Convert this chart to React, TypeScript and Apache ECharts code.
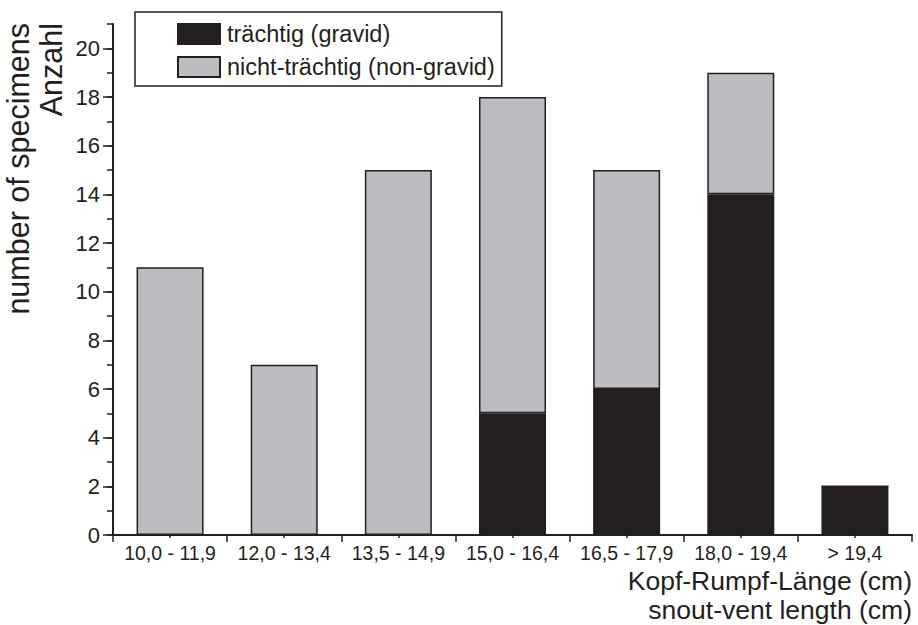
import React, { useEffect, useRef } from "react";
import * as echarts from "echarts";

const categories = ["10,0 - 11,9", "12,0 - 13,4", "13,5 - 14,9", "15,0 - 16,4", "16,5 - 17,9", "18,0 - 19,4", "> 19,4"];
const gravid = [0, 0, 0, 5, 6, 14, 2];
const nonGravid = [11, 7, 15, 13, 9, 5, 0];
const yMajorTicks = [0, 2, 4, 6, 8, 10, 12, 14, 16, 18, 20];
const seriesNames = ["trächtig (gravid)", "nicht-trächtig (non-gravid)"];
const yTitle = ["number of specimens", "Anzahl"];
const xTitle = ["Kopf-Rumpf-Länge (cm)", "snout-vent length (cm)"];

const FONT = "'Liberation Sans', Arial, Helvetica, sans-serif";
const INK = "#231f20";
const GRAY = "#bcbdc1";

export default function App() {
  const ref = useRef<HTMLDivElement>(null);
  useEffect(() => {
    if (!ref.current) return;
    const chart = echarts.init(ref.current, undefined, { renderer: "svg" });
    const option: any = {
      animation: false,
      backgroundColor: "#ffffff",
      textStyle: { fontFamily: FONT },
      grid: { left: 113, right: 6, top: 24, bottom: 90, containLabel: false, outerBoundsMode: "none" },
      legend: {
        orient: "vertical",
        left: 135,
        top: 12,
        icon: "rect",
        itemWidth: 42,
        itemHeight: 20,
        itemGap: 9,
        padding: [10, 7, 7, 42],
        borderColor: INK,
        borderWidth: 1.5,
        borderRadius: 0,
        data: seriesNames,
        textStyle: { fontFamily: FONT, fontSize: 23.5, color: INK, lineHeight: 20, padding: [0, 0, 0, 2] },
      },
      xAxis: [
        {
          type: "category",
          data: categories,
          position: "bottom",
          boundaryGap: true,
          axisLine: { show: true, lineStyle: { color: INK, width: 2 } },
          axisTick: { show: true, interval: 0, length: 7, lineStyle: { color: INK, width: 1.5 } },
          axisLabel: {
            interval: 0,
            margin: 8,
            fontFamily: FONT,
            fontSize: 19.5,
            color: INK,
            hideOverlap: false,
          },
          splitLine: { show: false },
        },
        {
          type: "category",
          data: categories,
          position: "bottom",
          offset: 0,
          boundaryGap: true,
          axisLine: { show: false },
          axisTick: { show: true, alignWithLabel: true, interval: 0, length: 3, lineStyle: { color: INK, width: 1.5 } },
          axisLabel: { show: false },
          splitLine: { show: false },
        },
      ],
      yAxis: [
        {
          type: "value",
          min: 0,
          max: 21,
          interval: 2,
          position: "left",
          axisLine: { show: true, lineStyle: { color: INK, width: 2 } },
          axisTick: { show: true, length: 10, customValues: yMajorTicks, lineStyle: { color: INK, width: 1.5 } },
          axisLabel: {
            margin: 13,
            fontFamily: FONT,
            fontSize: 22,
            color: INK,
            customValues: yMajorTicks,
            formatter: (v: number) => (v % 2 === 0 ? String(v) : ""),
          },
          splitLine: { show: false },
        },
        {
          type: "value",
          min: 0,
          max: 21,
          interval: 1,
          position: "left",
          offset: 0,
          axisLine: { show: false },
          axisTick: { show: true, length: 6, lineStyle: { color: INK, width: 1.5 } },
          axisLabel: { show: false },
          splitLine: { show: false },
        },
      ],
      series: [
        {
          name: seriesNames[0],
          type: "bar",
          stack: "total",
          xAxisIndex: 0,
          yAxisIndex: 0,
          barWidth: 67,
          data: gravid,
          itemStyle: { color: INK, borderColor: INK, borderWidth: 1.5 },
        },
        {
          name: seriesNames[1],
          type: "bar",
          stack: "total",
          xAxisIndex: 0,
          yAxisIndex: 0,
          barWidth: 67,
          data: nonGravid,
          itemStyle: { color: GRAY, borderColor: INK, borderWidth: 1.5 },
        },
      ],
      graphic: [
        {
          type: "text",
          x: 1,
          y: 23,
          rotation: Math.PI / 2,
          style: {
            text: yTitle.join("\n"),
            font: `30.5px ${FONT}`,
            fill: INK,
            align: "right",
            verticalAlign: "top",
            lineHeight: 33,
          },
        },
        {
          type: "text",
          x: 912,
          y: 580.5,
          style: { text: xTitle[0], font: `26.5px ${FONT}`, fill: INK, align: "right", verticalAlign: "middle" },
        },
        {
          type: "text",
          x: 912,
          y: 610,
          style: { text: xTitle[1], font: `26.5px ${FONT}`, fill: INK, align: "right", verticalAlign: "middle" },
        },
      ],
    };
    chart.setOption(option);
    return () => chart.dispose();
  }, []);
  return <div ref={ref} style={{ position: "fixed", left: 0, top: 0, width: 918, height: 625 }} />;
}
